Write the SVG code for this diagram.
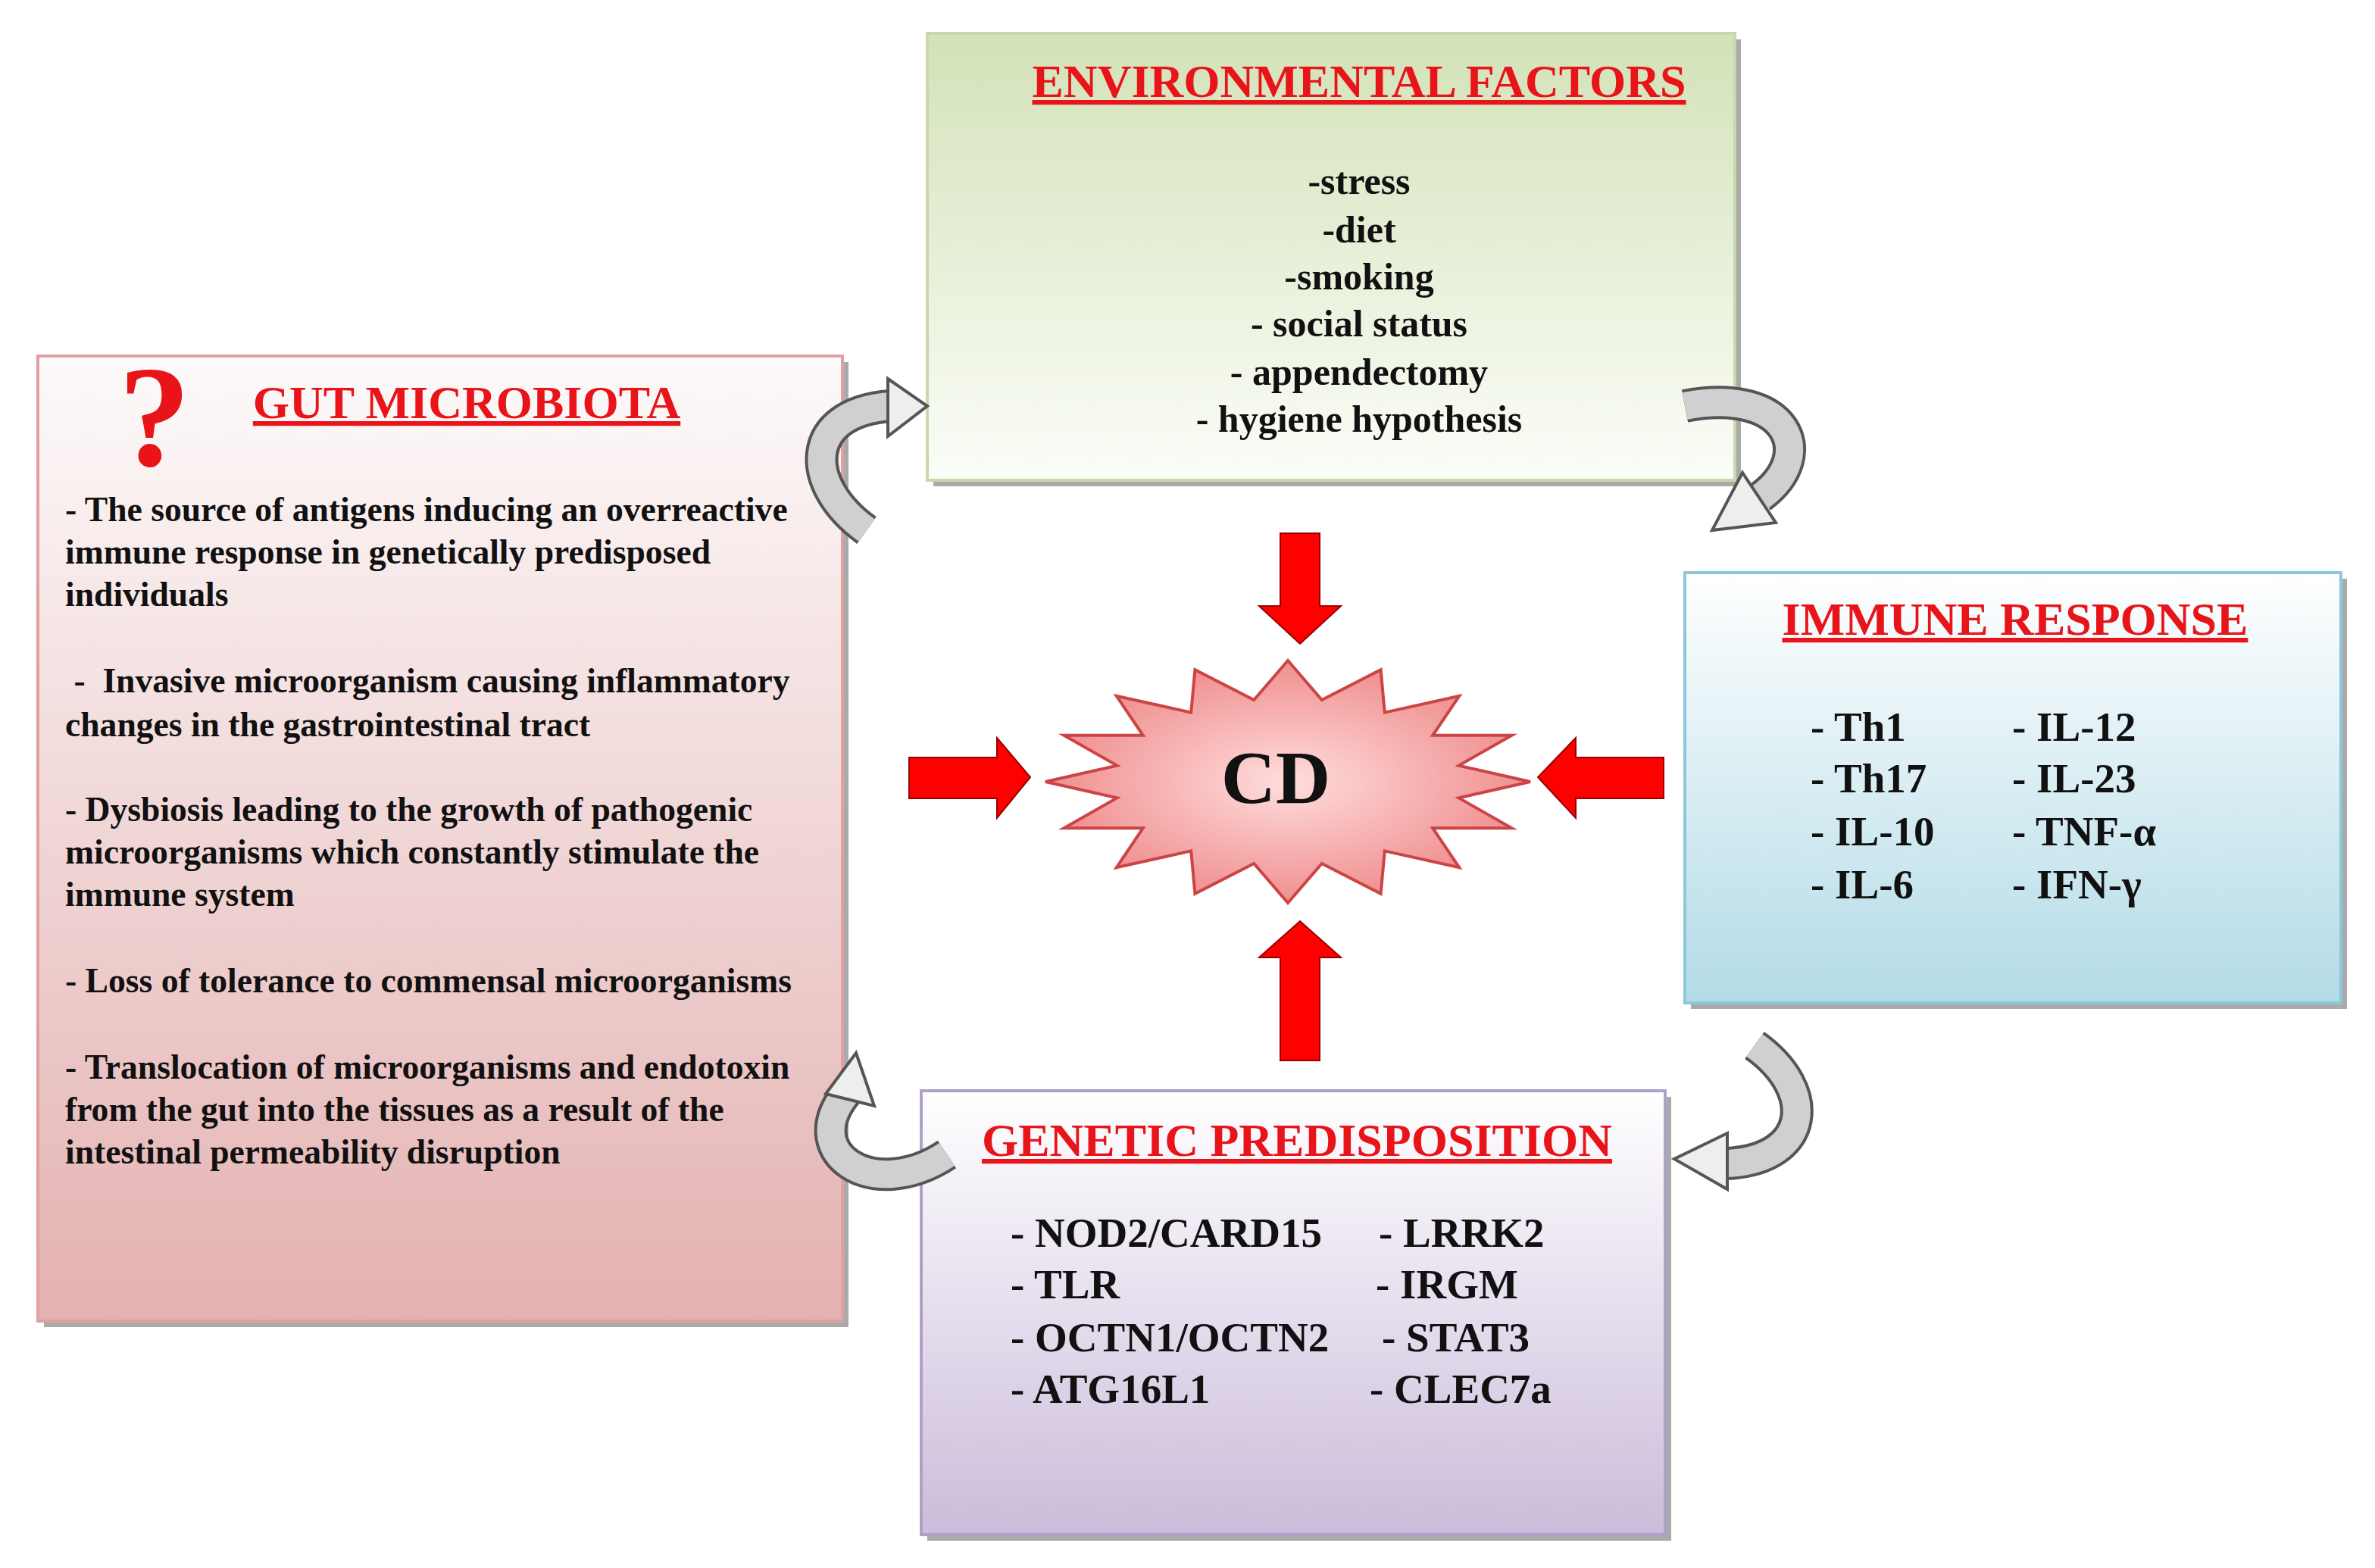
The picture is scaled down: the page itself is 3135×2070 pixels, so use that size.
<svg xmlns="http://www.w3.org/2000/svg" width="3135" height="2070" viewBox="0 0 3135 2070">
<defs>
<linearGradient id="gEnv" x1="0" y1="0" x2="0" y2="1"><stop offset="0" stop-color="#d3e2b8"/><stop offset="1" stop-color="#fbfdf8"/></linearGradient>
<linearGradient id="gGut" x1="0" y1="0" x2="0" y2="1"><stop offset="0" stop-color="#fdfafa"/><stop offset="1" stop-color="#e4b1b1"/></linearGradient>
<linearGradient id="gImm" x1="0" y1="0" x2="0" y2="1"><stop offset="0" stop-color="#ffffff"/><stop offset="1" stop-color="#b3dbe7"/></linearGradient>
<linearGradient id="gGen" x1="0" y1="0" x2="0" y2="1"><stop offset="0" stop-color="#ffffff"/><stop offset="1" stop-color="#cbbcdb"/></linearGradient>
<radialGradient id="gStar"><stop offset="0" stop-color="#fdd"/><stop offset="1" stop-color="#f08f8f"/></radialGradient>
<style>
.t{font-family:"Liberation Serif",serif;font-weight:bold;fill:#111}
.ti{font-family:"Liberation Serif",serif;font-weight:bold;fill:#e8141a;font-size:31px;text-decoration:underline;text-anchor:middle}
.sh{fill:#aaa}
.ra{fill:#f00;stroke:#900;stroke-width:1}
.cv{fill:none;stroke:#555;stroke-width:22}
.cvi{fill:none;stroke:#d0d0d0;stroke-width:18}
.ch{fill:#eee;stroke:#555;stroke-width:2}
</style>
</defs>
<rect width="3135" height="2070" fill="#fff"/>
<g transform="scale(2.0)">
<g id="env">
<rect class="sh" x="616" y="26" width="533" height="295"/>
<rect x="612" y="22" width="533" height="295" fill="url(#gEnv)" stroke="#c7d8aa" stroke-width="2"/>
<text class="ti" x="897" y="64">ENVIRONMENTAL FACTORS</text>
<g class="t" font-size="25" text-anchor="middle">
<text x="897" y="128">-stress</text><text x="897" y="160">-diet</text><text x="897" y="191">-smoking</text>
<text x="897" y="222">- social status</text><text x="897" y="254">- appendectomy</text><text x="897" y="285">- hygiene hypothesis</text></g>
</g>
<g id="gut">
<rect class="sh" x="29" y="239" width="531" height="637"/>
<rect x="25" y="235" width="531" height="637" fill="url(#gGut)" stroke="#e0a0a0" stroke-width="2"/>
<text x="102" y="307" font-family="Liberation Serif,serif" font-weight="bold" font-size="95" fill="#e8141a" text-anchor="middle">?</text>
<text class="ti" x="308" y="276">GUT MICROBIOTA</text>
<g class="t" font-size="22.8">
<text x="43" y="344">- The source of antigens inducing an overreactive</text>
<text x="43" y="372">immune response in genetically predisposed</text>
<text x="43" y="400">individuals</text>
<text x="43" y="457" xml:space="preserve"> -  Invasive microorganism causing inflammatory</text>
<text x="43" y="486">changes in the gastrointestinal tract</text>
<text x="43" y="542">- Dysbiosis leading to the growth of pathogenic</text>
<text x="43" y="570">microorganisms which constantly stimulate the</text>
<text x="43" y="598">immune system</text>
<text x="43" y="655">- Loss of tolerance to commensal microorganisms</text>
<text x="43" y="712">- Translocation of microorganisms and endotoxin</text>
<text x="43" y="740">from the gut into the tissues as a result of the</text>
<text x="43" y="768">intestinal permeability disruption</text></g>
</g>
<g id="imm">
<rect class="sh" x="1116" y="382" width="433" height="284"/>
<rect x="1112" y="378" width="433" height="284" fill="url(#gImm)" stroke="#8cc8d8" stroke-width="2"/>
<text class="ti" x="1330" y="419">IMMUNE RESPONSE</text>
<g class="t" font-size="27.5">
<text x="1195" y="489">- Th1</text><text x="1195" y="523">- Th17</text><text x="1195" y="558">- IL-10</text><text x="1195" y="593">- IL-6</text>
<text x="1328" y="489">- IL-12</text><text x="1328" y="523">- IL-23</text><text x="1328" y="558">- TNF-α</text><text x="1328" y="593">- IFN-γ</text></g>
</g>
<g id="gen">
<rect class="sh" x="612" y="724" width="491" height="293"/>
<rect x="608" y="720" width="491" height="293" fill="url(#gGen)" stroke="#b0a0c8" stroke-width="2"/>
<text class="ti" x="856" y="763">GENETIC PREDISPOSITION</text>
<g class="t" font-size="27.5">
<text x="667" y="823">- NOD2/CARD15</text><text x="667" y="857">- TLR</text><text x="667" y="892">- OCTN1/OCTN2</text><text x="667" y="926">- ATG16L1</text>
<text x="910" y="823">- LRRK2</text><text x="908" y="857">- IRGM</text><text x="912" y="892">- STAT3</text><text x="904" y="926">- CLEC7a</text></g>
</g>
<g id="cd">
<polygon fill="url(#gStar)" stroke="#c44" stroke-width="2" points="1010,516 962.8,526.7 997.8,546.6 945.6,546.6 963.1,572.6 913.9,561.7 911.3,589.9 872.4,570 850,596 827.6,570 788.7,589.9 786.1,561.7 736.9,572.6 754.4,546.6 702.2,546.6 737.2,526.7 690,516 737.2,505.3 702.2,485.4 754.4,485.4 736.9,459.4 786.1,470.3 788.7,442.1 827.6,462 850,436 872.4,462 911.3,442.1 913.9,470.3 963.1,459.4 945.6,485.4 997.8,485.4 962.8,505.3"/>
<text x="842" y="530" font-family="Liberation Serif,serif" font-weight="bold" font-size="50" text-anchor="middle" fill="#111">CD</text>
</g>
<g id="connectors">
<polygon class="ra" points="845,352 871,352 871,400 885,400 858,425 831,400 845,400"/>
<polygon class="ra" points="600,500 658,500 658,487 680,513 658,540 658,527 600,527"/>
<polygon class="ra" points="1098,500 1040,500 1040,487 1015,513 1040,540 1040,527 1098,527"/>
<polygon class="ra" points="845,700 871,700 871,632 885,632 858,608 831,632 845,632"/>
<path class="cv" d="M572,350 C530,320 530,272 588,268"/><path class="cvi" d="M572,350 C530,320 530,272 588,268"/>
<polygon class="ch" points="586,250 612,268 586,288"/>
<path class="cv" d="M1112,268 C1180,255 1200,300 1162,328"/><path class="cvi" d="M1112,268 C1180,255 1200,300 1162,328"/>
<polygon class="ch" points="1150,312 1130,350 1172,345"/>
<path class="cv" d="M1158,690 C1200,720 1195,765 1140,768"/><path class="cvi" d="M1158,690 C1200,720 1195,765 1140,768"/>
<polygon class="ch" points="1140,748 1105,765 1140,785"/>
<path class="cv" d="M625,762 C575,795 525,760 560,720"/><path class="cvi" d="M625,762 C575,795 525,760 560,720"/>
<polygon class="ch" points="545,722 565,695 577,730"/>
</g>
</g>
</svg>
